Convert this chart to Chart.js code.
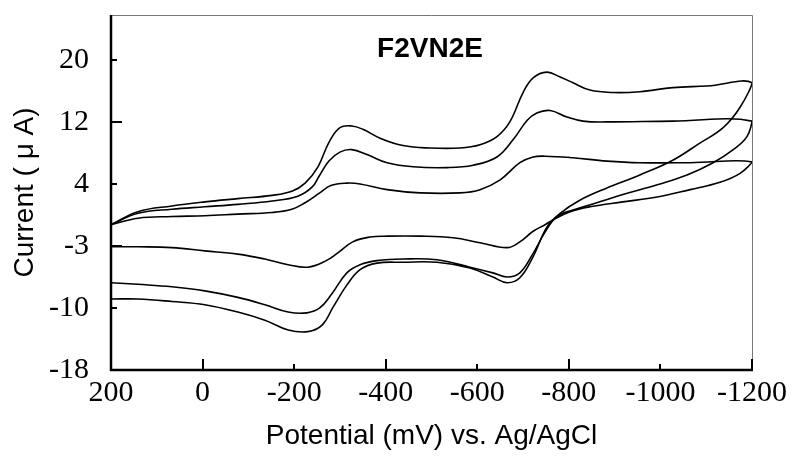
<!DOCTYPE html>
<html>
<head>
<meta charset="utf-8">
<script src="https://cdn.jsdelivr.net/npm/chart.js@4"></script>
<style>
  html, body { margin: 0; padding: 0; background: #fff; }
  #wrap { width: 792px; height: 456px; }
</style>
</head>
<body>
<div id="wrap"><canvas id="cvChart" width="792" height="456"></canvas></div>
<script>
(function() {
    'use strict';

    const chartTitle = 'F2VN2E';
    const xTitle = 'Potential (mV) vs. Ag/AgCl';
    const yTitle = 'Current ( \u03bc A)';

    const xTicks = [200, 0, -200, -400, -600, -800, -1000, -1200];
    const yTicks = [-18, -10.4, -2.8, 4.8, 12.4, 20];
    const yTickLabels = ['-18', '-10', '-3', '4', '12', '20'];

    // [potential mV, current uA], forward scan to -1200 then back
    const loopOuter = [
        [200, -0.2], [141, 1.4], [67, 2.1], [-5, 2.6], [-77, 3.0], [-152, 3.4], [-195, 3.9],
        [-224, 4.9], [-252, 6.9], [-276, 9.9], [-300, 11.7], [-326, 11.9],
        [-350, 11.5], [-388, 10.4], [-438, 9.5], [-497, 9.2], [-562, 9.2], [-606, 9.6],
        [-643, 10.6], [-671, 12.4], [-700, 16.0], [-722, 17.8], [-752, 18.5],
        [-781, 17.9], [-809, 17.2], [-846, 16.3], [-896, 16.0], [-955, 16.1], [-1027, 16.6],
        [-1102, 16.8], [-1200, 17.2],
        [-1174, 14.2], [-1137, 11.7], [-1086, 9.8], [-1027, 7.7], [-955, 5.9], [-883, 4.3],
        [-824, 2.8], [-781, 1.2], [-752, -0.5],
        [-722, -4.1], [-693, -6.7], [-665, -7.3], [-634, -6.6], [-584, -5.5], [-512, -4.8],
        [-438, -4.8], [-381, -4.9], [-344, -5.7], [-315, -7.6], [-285, -10.3],
        [-261, -12.5], [-230, -13.3], [-187, -13.1], [-136, -11.9], [-77, -10.9],
        [-5, -10.0], [67, -9.6], [141, -9.3], [200, -9.3]
    ];

    const loopMiddle = [
        [200, -0.2], [141, 1.2], [67, 1.7], [-5, 2.0], [-77, 2.3], [-152, 2.7], [-208, 3.3],
        [-239, 4.4], [-256, 5.9], [-276, 7.6], [-300, 8.7], [-326, 9.0], [-359, 8.4],
        [-403, 7.4], [-460, 6.9], [-534, 6.8], [-591, 7.1], [-643, 8.1], [-678, 10.2],
        [-709, 12.6], [-730, 13.5], [-759, 13.8], [-796, 13.0], [-831, 12.5], [-883, 12.4],
        [-1027, 12.5], [-1200, 12.5],
        [-1189, 10.6], [-1159, 9.0], [-1115, 7.4], [-1058, 5.9], [-993, 4.7], [-918, 3.5],
        [-861, 2.5], [-809, 1.6], [-774, 0.8], [-748, -1.1],
        [-722, -3.7], [-693, -6.1], [-665, -6.6], [-634, -6.1], [-584, -5.4], [-512, -4.5],
        [-438, -4.4], [-381, -4.6], [-344, -5.1], [-315, -6.1], [-282, -8.7],
        [-256, -10.4], [-228, -11.0], [-187, -10.9], [-136, -10.0], [-77, -9.1], [-5, -8.3],
        [67, -7.8], [141, -7.5], [200, -7.3]
    ];

    const loopInner = [
        [200, -0.2], [141, 0.6], [67, 0.8], [-5, 0.9], [-77, 1.1], [-152, 1.3], [-195, 1.7],
        [-224, 2.5], [-256, 3.7], [-280, 4.6], [-315, 4.9], [-344, 4.8],
        [-403, 4.1], [-475, 3.7], [-562, 3.7], [-606, 4.1], [-650, 5.3], [-693, 7.4],
        [-722, 8.1], [-748, 8.2], [-809, 8.0], [-883, 7.6], [-955, 7.4], [-1065, 7.4],
        [-1200, 7.5],
        [-1174, 6.1], [-1130, 5.0], [-1065, 4.1], [-993, 3.2], [-918, 2.6], [-846, 2.0],
        [-803, 1.4], [-765, 0.4], [-748, -0.2],
        [-722, -1.0], [-693, -2.3], [-665, -3.0], [-606, -2.4], [-547, -1.8], [-475, -1.6],
        [-403, -1.6], [-366, -1.7], [-328, -2.3], [-294, -3.7], [-270, -4.6],
        [-230, -5.4], [-187, -5.1], [-136, -4.4], [-77, -3.8], [-5, -3.4], [67, -3.0],
        [141, -2.9], [200, -2.9]
    ];

    const serif = '"Liberation Serif", "Times New Roman", serif';
    const sans = '"Liberation Sans", Arial, sans-serif';

    // frame, inward tick marks and the inner title
    const framePlugin = {
        id: 'framePlugin',
        afterDatasetsDraw(chart) {
            const { ctx, chartArea: a, scales: { x, y } } = chart;
            ctx.save();
            ctx.strokeStyle = '#777';
            ctx.lineWidth = 1;
            ctx.beginPath();
            ctx.moveTo(a.left, a.top + 0.5);
            ctx.lineTo(a.right + 0.5, a.top + 0.5);
            ctx.lineTo(a.right + 0.5, a.bottom);
            ctx.stroke();

            ctx.strokeStyle = '#000';
            ctx.lineWidth = 2.5;
            ctx.beginPath();
            ctx.moveTo(a.left, a.top);
            ctx.lineTo(a.left, a.bottom);
            ctx.lineTo(a.right + 1, a.bottom);
            ctx.stroke();

            ctx.lineWidth = 2;
            x.ticks.forEach((t, i) => {
                const px = Math.round(x.getPixelForValue(t.value));
                const len = i % 2 ? 11 : 6;
                ctx.beginPath();
                ctx.moveTo(px, a.bottom);
                ctx.lineTo(px, a.bottom - len);
                ctx.stroke();
            });
            y.ticks.forEach((t, i) => {
                const py = Math.round(y.getPixelForValue(t.value));
                const len = i % 2 ? 6 : 11;
                ctx.beginPath();
                ctx.moveTo(a.left, py);
                ctx.lineTo(a.left + len, py);
                ctx.stroke();
            });

            ctx.fillStyle = '#000';
            ctx.font = 'bold 28px ' + sans;
            ctx.textAlign = 'center';
            ctx.textBaseline = 'alphabetic';
            ctx.fillText(chartTitle, 430, 57);
            ctx.restore();
        }
    };

    function loopDataset(points) {
        return {
            data: points.map(p => ({ x: p[0], y: p[1] })),
            showLine: true,
            borderColor: '#000',
            borderWidth: 1.6,
            pointRadius: 0,
            tension: 0.4,
            fill: false
        };
    }

    new Chart(document.getElementById('cvChart'), {
        type: 'scatter',
        data: {
            datasets: [loopDataset(loopOuter), loopDataset(loopMiddle), loopDataset(loopInner)]
        },
        options: {
            responsive: false,
            animation: false,
            devicePixelRatio: 1,
            layout: { padding: { top: 15, right: 40, left: 0, bottom: 0 } },
            plugins: {
                legend: { display: false },
                tooltip: { enabled: false }
            },
            scales: {
                x: {
                    type: 'linear',
                    reverse: true,
                    min: -1200,
                    max: 200,
                    afterBuildTicks: s => { s.ticks = xTicks.map(v => ({ value: v })); },
                    afterFit: s => { s.height = 86; s.paddingLeft = 0; s.paddingRight = 0; },
                    grid: { display: false, drawTicks: false },
                    border: { display: false },
                    ticks: {
                        color: '#000',
                        padding: 5,
                        maxRotation: 0,
                        autoSkip: false,
                        font: { family: serif, size: 30 },
                        callback: v => String(v)
                    },
                    title: {
                        display: true,
                        text: xTitle,
                        color: '#000',
                        font: { family: sans, size: 28 },
                        padding: { top: 0, bottom: 3 }
                    }
                },
                y: {
                    type: 'linear',
                    min: -18,
                    max: 25.5,
                    afterBuildTicks: s => { s.ticks = yTicks.map(v => ({ value: v })); },
                    afterFit: s => { s.width = 111; s.paddingTop = 0; s.paddingBottom = 0; },
                    grid: { display: false, drawTicks: false },
                    border: { display: false },
                    ticks: {
                        color: '#000',
                        padding: 22,
                        autoSkip: false,
                        font: { family: serif, size: 30 },
                        callback: (v, i) => yTickLabels[i]
                    },
                    title: {
                        display: true,
                        text: yTitle,
                        color: '#000',
                        font: { family: sans, size: 28 },
                        padding: { top: 8, bottom: 0 }
                    }
                }
            }
        },
        plugins: [framePlugin]
    });
})();
</script>
</body>
</html>
